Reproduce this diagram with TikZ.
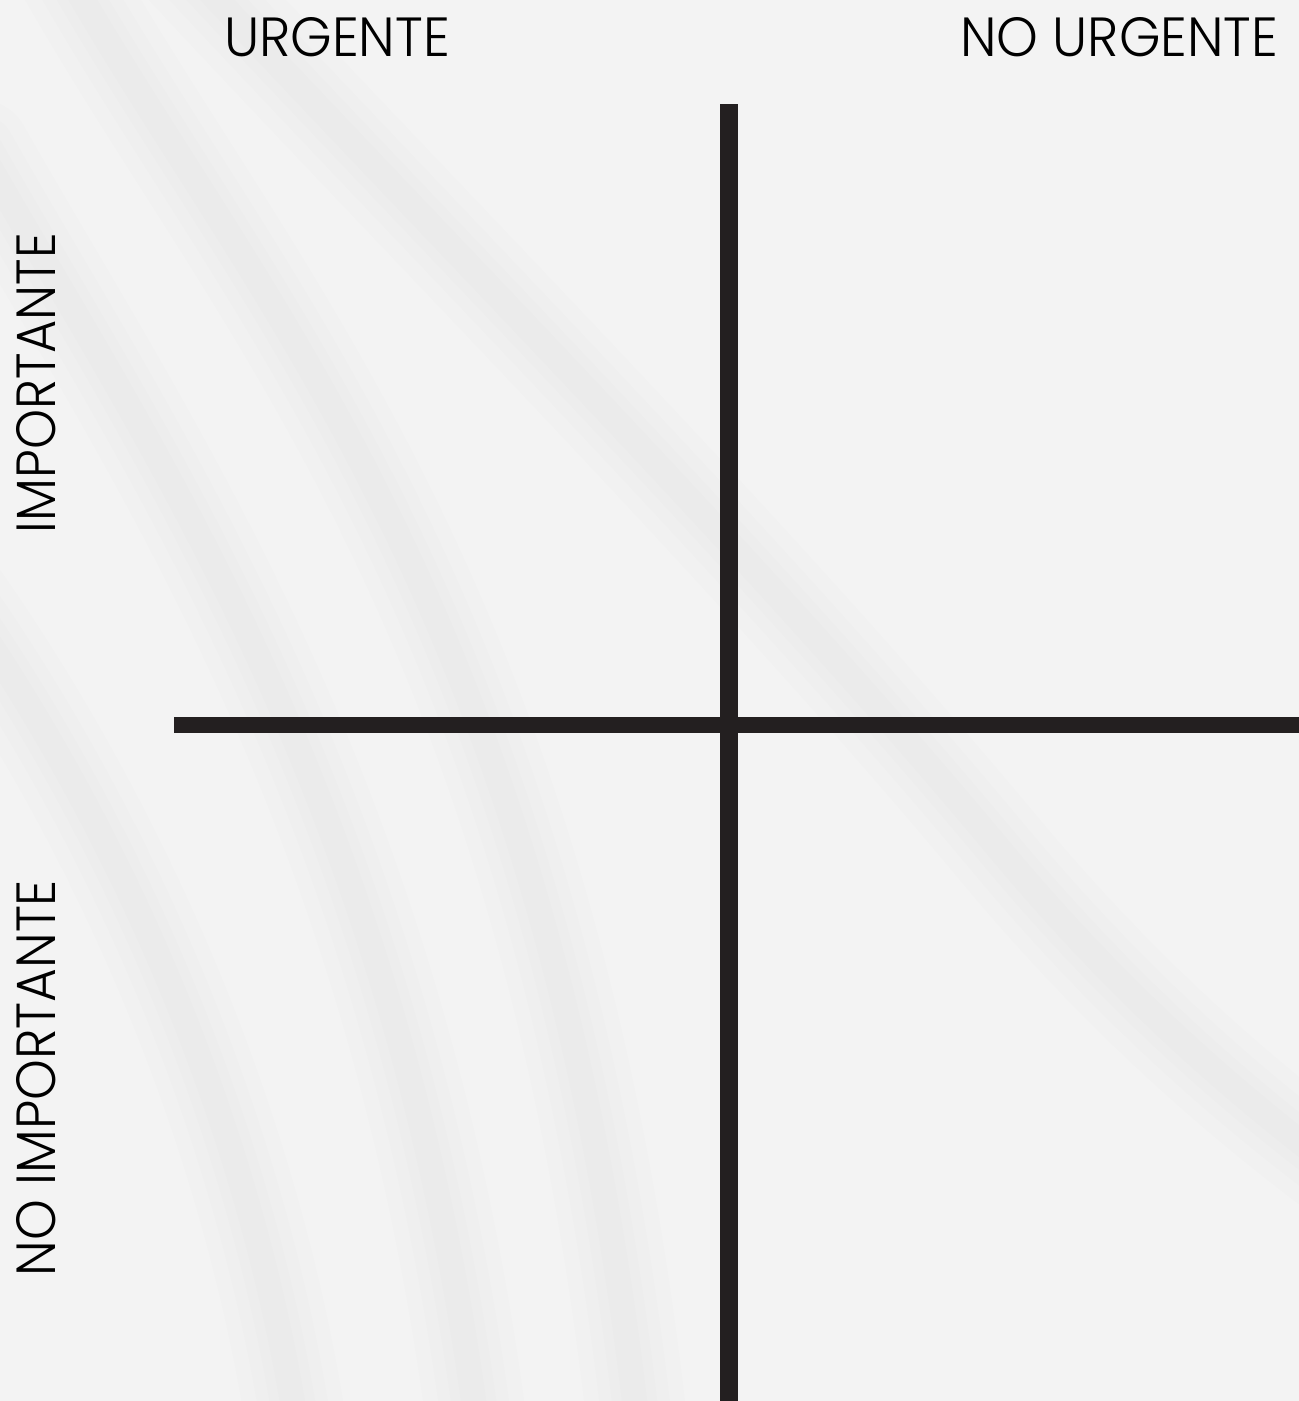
\documentclass[tikz,border=0pt]{standalone}
\usepackage{fontspec}
\setmainfont{Poppins Light}
\usepackage{graphicx}
\definecolor{bgpaper}{RGB}{243,243,243}
\definecolor{shade}{RGB}{200,200,200}
\definecolor{inkline}{RGB}{35,31,32}
\tikzset{
  axisline/.style={draw=inkline, line cap=butt},
  lbl/.style={inner sep=0pt, outer sep=0pt, text=black},
  swoosh/.style={draw=shade, line cap=round, opacity=0.045}
}
\begin{document}
\begin{tikzpicture}[x=1pt,y=-1pt]
\useasboundingbox (0,0) rectangle (1299,1401);
\fill[bgpaper] (0,0) rectangle (1299,1401);
% soft fabric shadows
\foreach \w in {100,70,45,25}{
  \draw[swoosh, line width=\w] (60,-40) .. controls (250,300) and (550,600) .. (640,1450);
  \draw[swoosh, line width=\w] (-20,150) .. controls (150,450) and (400,800) .. (480,1450);
  \draw[swoosh, line width=\w] (-40,600) .. controls (100,800) and (250,1100) .. (300,1450);
  \draw[swoosh, line width=\w] (180,-40) .. controls (450,250) and (750,550) .. (1000,850) .. controls (1150,1030) and (1300,1150) .. (1450,1250);
}
% labels
\node[lbl, anchor=south west] (urg) at (224,57) {\resizebox{226pt}{39pt}{URGENTE}};
\node[lbl, anchor=south west] (nourg) at (960,57) {\resizebox{318pt}{39pt}{NO URGENTE}};
\node[lbl, anchor=south west, rotate=90] (imp) at (56,533) {\resizebox{300pt}{39pt}{IMPORTANTE}};
\node[lbl, anchor=south west, rotate=90] (noimp) at (56,1276) {\resizebox{396pt}{39pt}{NO IMPORTANTE}};
% axes
\coordinate (vtop) at (729,104);
\coordinate (vbot) at (729,1401);
\coordinate (hleft) at (174,725);
\coordinate (hright) at (1299,725);
\draw[axisline, line width=18pt] (vtop) -- (vbot);
\draw[axisline, line width=16.5pt] (hleft) -- (hright);
\end{tikzpicture}
\end{document}
